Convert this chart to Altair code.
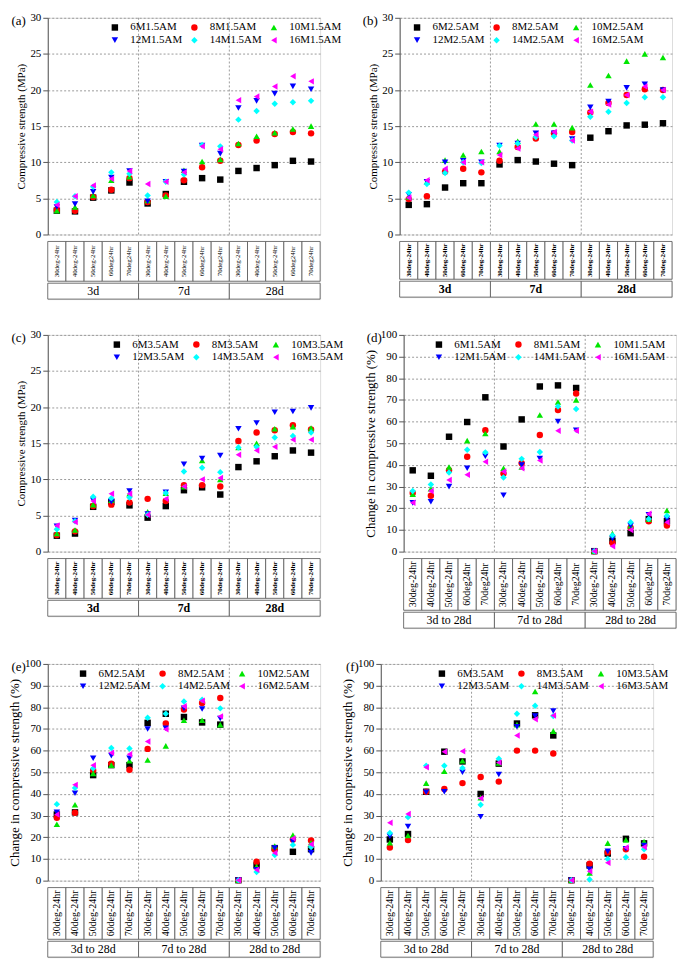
import altair as alt
import pandas as pd

SERIF = "Liberation Serif"

# x categories
temps_mixed = ["30deg-24hr", "40deg-24hr", "50deg-24hr", "60deg24hr", "70deg24hr"]
temps_hyph = ["30deg-24hr", "40deg-24hr", "50deg-24hr", "60deg-24hr", "70deg-24hr"]
ages = ["3d", "7d", "28d"]
ages_change = ["3d to 28d", "7d to 28d", "28d to 28d"]

names_15 = ["6M1.5AM", "8M1.5AM", "10M1.5AM", "12M1.5AM", "14M1.5AM", "16M1.5AM"]
names_25 = ["6M2.5AM", "8M2.5AM", "10M2.5AM", "12M2.5AM", "14M2.5AM", "16M2.5AM"]
names_35 = ["6M3.5AM", "8M3.5AM", "10M3.5AM", "12M3.5AM", "14M3.5AM", "16M3.5AM"]

# (a) compressive strength, 1.5AM (MPa)
a_6 = [3.3, 3.2, 5.1, 6.1, 7.2, 4.3, 5.6, 7.3, 7.8, 7.6, 8.8, 9.2, 9.6, 10.2, 10.1]
a_8 = [3.4, 3.3, 5.2, 6.2, 7.8, 4.5, 5.4, 7.5, 9.3, 10.2, 12.4, 13.0, 13.9, 14.2, 14.0]
a_10 = [3.3, 3.8, 5.4, 7.5, 8.0, 4.7, 5.3, 8.9, 10.1, 10.4, 12.6, 13.6, 14.1, 14.6, 15.0]
a_12 = [3.8, 4.2, 5.9, 7.9, 8.8, 4.6, 7.3, 8.7, 12.3, 11.2, 17.5, 18.5, 19.5, 20.5, 20.1]
a_14 = [4.5, 5.3, 6.6, 8.6, 8.4, 5.4, 7.3, 8.3, 12.4, 12.2, 15.9, 17.1, 18.1, 18.3, 18.5]
a_16 = [4.1, 5.3, 6.8, 7.7, 8.8, 7.0, 7.3, 8.6, 12.2, 11.8, 18.6, 19.1, 20.5, 21.9, 21.2]

# (b) compressive strength, 2.5AM (MPa)
b_6 = [4.1, 4.2, 6.5, 7.1, 7.1, 9.7, 10.3, 10.1, 9.8, 9.6, 13.4, 14.3, 15.1, 15.2, 15.4]
b_8 = [4.9, 5.3, 8.7, 9.1, 8.6, 10.2, 12.1, 13.3, 14.0, 14.2, 16.9, 18.2, 19.3, 20.1, 20.0]
b_10 = [5.2, 7.3, 10.3, 11.0, 11.5, 11.5, 12.9, 15.3, 15.3, 14.8, 20.7, 22.0, 24.0, 25.0, 24.5]
b_12 = [5.5, 7.3, 10.0, 10.2, 10.0, 12.3, 12.6, 14.0, 14.0, 13.2, 17.6, 18.4, 20.3, 20.8, 20.0]
b_14 = [5.8, 7.0, 8.5, 10.0, 9.9, 12.3, 12.6, 13.5, 13.6, 13.0, 16.3, 17.0, 18.2, 19.0, 19.0]
b_16 = [5.1, 7.5, 9.1, 10.0, 10.0, 11.0, 11.9, 13.8, 14.2, 13.0, 17.0, 18.0, 19.3, 20.5, 20.0]

# (c) compressive strength, 3.5AM (MPa)
c_6 = [2.2, 2.5, 6.2, 6.9, 6.4, 4.7, 6.3, 8.5, 8.9, 7.9, 11.7, 12.5, 13.2, 14.0, 13.7]
c_8 = [2.3, 2.8, 6.3, 6.5, 6.8, 7.3, 7.0, 9.2, 9.2, 9.0, 15.3, 16.5, 16.8, 17.5, 16.9]
c_10 = [2.5, 3.0, 6.5, 7.1, 8.0, 5.5, 8.1, 9.0, 12.6, 10.0, 14.4, 15.0, 17.0, 17.3, 17.1]
c_12 = [3.5, 4.3, 7.1, 6.9, 8.4, 5.2, 8.2, 12.1, 12.9, 13.3, 17.0, 17.8, 19.3, 19.4, 19.9]
c_14 = [3.1, 4.2, 7.6, 7.4, 7.5, 5.1, 8.1, 11.1, 11.6, 11.0, 14.4, 14.5, 15.8, 16.0, 16.5]
c_16 = [3.6, 4.1, 7.0, 8.0, 8.0, 5.1, 7.3, 9.0, 10.0, 10.2, 13.4, 14.0, 14.5, 15.5, 15.5]

# (d) change in strength, 1.5AM (%)
d_6 = [37.5, 35, 53, 59.8, 71.2, 48.5, 61, 76.2, 76.7, 75.5, 0.2, 5, 8.5, 15, 14]
d_8 = [27, 25.8, 37.5, 43.8, 56, 36, 40.8, 53.8, 65.3, 73, 0.2, 4, 11, 14, 12]
d_10 = [26.5, 29, 39, 51.2, 54.5, 38.5, 39, 63, 69, 70, 0.2, 8.3, 12, 15, 19]
d_12 = [22.5, 23, 30, 38.5, 44, 26, 40, 43, 60, 56, 0.2, 6, 12, 17, 15]
d_14 = [28, 31, 36.5, 47, 45.8, 34.2, 42.8, 46, 67, 65.8, 0.2, 7.5, 13.5, 15, 16.5]
d_16 = [22.5, 28, 33, 35.5, 41.5, 37, 38.5, 42, 55.8, 55.8, 0.2, 2.5, 10, 17.5, 13.5]

# (e) change in strength, 2.5AM (%)
e_6 = [30.5, 31.5, 48.7, 53.3, 53.3, 72.8, 77, 75.5, 73, 72, 0.2, 7, 15, 13.3, 14.5]
e_8 = [29, 31.3, 50.8, 54, 51.2, 60.8, 72.5, 79, 82, 84.3, 0.2, 8.7, 14.5, 19, 18.5]
e_10 = [26, 35, 49.5, 53.3, 55.3, 55.7, 62.2, 74, 74, 72, 0.2, 6.5, 16, 21, 17.5]
e_12 = [31.5, 40.3, 56.5, 57.7, 56.5, 70, 70.3, 79.5, 79.2, 74.8, 0.2, 5, 15, 18, 12.8]
e_14 = [35.3, 42.8, 51.8, 61.2, 61, 75.2, 77, 82.7, 83.5, 79.5, 0.2, 4, 11.8, 16.5, 15.5]
e_16 = [30.5, 44.2, 53.2, 59, 58.3, 64.2, 69.8, 80.5, 83, 75.8, 0.2, 5, 12.8, 19.5, 16.8]

# (f) change in strength, 3.5AM (%)
f_6 = [19, 21.5, 41, 59.5, 55, 40, 54, 72.5, 76.3, 67, 0.2, 7, 12.5, 19.3, 17.2]
f_8 = [15.3, 18.7, 41, 42.3, 45, 47.8, 45.7, 60, 60, 58.7, 0.2, 7.8, 13, 14.5, 11]
f_10 = [17.5, 20.8, 45, 50.5, 55.3, 38.3, 54.3, 72, 87.3, 69, 0.2, 3.5, 17.3, 18.8, 18]
f_12 = [20.5, 25, 40.8, 41, 50, 29.5, 49, 71, 76, 78.3, 0.2, 5.2, 13.5, 14.7, 16.2]
f_14 = [22, 29.3, 53, 53, 52, 35, 56.2, 77, 80.7, 76, 0.2, 0.5, 10, 10.8, 14.5]
f_16 = [26.7, 30.8, 52.3, 59.5, 59.7, 38, 54.5, 67, 74.5, 76.2, 0.2, 4.3, 8.2, 15.3, 15.5]

COLORS = ["#000000", "#ff0000", "#00e600", "#0000ff", "#00ffff", "#ff00ff"]
SHAPES = ["square", "circle", "triangle-up", "triangle-down", "diamond", "triangle-left"]
W = 274
H = 218


def panel(tag, series, names, temps, groups, ymax, ystep, ytitle, ytitle_size,
          legend_x, lab_size, lab_weight, grp_weight, band_h):
    keys = [f"{g}_{t}" for g in range(len(groups)) for t in range(len(temps))]
    rows = []
    for name, vals in zip(names, series):
        for k, v in zip(keys, vals):
            rows.append({"key": k, "series": name, "value": v})
    df = pd.DataFrame(rows)
    xs = alt.Scale(type="band", domain=keys, paddingInner=0, paddingOuter=0)

    leg = alt.Legend(title=None, orient="none", direction="horizontal", legendX=legend_x,
                     legendY=4, columns=3, labelFont=SERIF, labelFontSize=11,
                     labelColor="black", symbolSize=42, symbolStrokeWidth=0,
                     labelOffset=10, columnPadding=6, rowPadding=1, labelLimit=200)
    pts = alt.Chart(df).mark_point(filled=True, size=42, opacity=1).encode(
        x=alt.X("key:N", scale=xs, axis=None),
        y=alt.Y("value:Q", scale=alt.Scale(domain=[0, ymax], nice=False),
                axis=alt.Axis(values=list(range(0, ymax + 1, ystep)), grid=True,
                              gridDash=[2, 2], gridColor="#9a9a9a", title=ytitle,
                              titleFont=SERIF, titleFontSize=ytitle_size,
                              titleFontWeight="normal", titleColor="black",
                              labelFont=SERIF, labelFontSize=11, labelColor="black",
                              domainColor="#555", tickColor="#555", titlePadding=3)),
        color=alt.Color("series:N", scale=alt.Scale(domain=names, range=COLORS), legend=leg),
        shape=alt.Shape("series:N", scale=alt.Scale(domain=names, range=SHAPES), legend=leg),
    )
    sep = pd.DataFrame({"key": [keys[len(temps) * i] for i in range(1, len(groups))]})
    rules = alt.Chart(sep).mark_rule(color="#9a9a9a", strokeDash=[2, 2]).encode(
        x=alt.X("key:N", scale=xs, axis=None, bandPosition=0)
    )
    tagc = alt.Chart(pd.DataFrame({"t": [tag]})).mark_text(
        font=SERIF, fontSize=13, align="right", baseline="top"
    ).encode(text="t:N", x=alt.value(-22), y=alt.value(-3))
    top = alt.layer(rules, pts, tagc).properties(width=W, height=H)

    lab_df = pd.DataFrame({"key": keys, "lab": temps * len(groups)})
    lab_rect = alt.Chart(lab_df).mark_rect(fill="white", stroke="#555", strokeWidth=0.8).encode(
        x=alt.X("key:N", scale=xs, axis=None))
    lab_txt = alt.Chart(lab_df).mark_text(angle=270, font=SERIF, fontSize=lab_size,
                                          fontWeight=lab_weight, color="black").encode(
        x=alt.X("key:N", scale=xs, axis=None), text="lab:N")
    band = alt.layer(lab_rect, lab_txt).properties(width=W, height=band_h)

    gs = alt.Scale(type="band", domain=groups, paddingInner=0, paddingOuter=0)
    grp_df = pd.DataFrame({"grp": groups})
    grp_rect = alt.Chart(grp_df).mark_rect(fill="white", stroke="#555", strokeWidth=0.8).encode(
        x=alt.X("grp:N", scale=gs, axis=None))
    grp_txt = alt.Chart(grp_df).mark_text(font=SERIF, fontSize=12, fontWeight=grp_weight,
                                          color="black").encode(
        x=alt.X("grp:N", scale=gs, axis=None), text="grp:N")
    gband = alt.layer(grp_rect, grp_txt).properties(width=W, height=16)

    return alt.vconcat(top, band, gband, spacing=0).resolve_scale(x="independent")


cs = "Compressive strength (MPa)"
ch = "Change in compressive strength (%)"

pa = panel("(a)", [a_6, a_8, a_10, a_12, a_14, a_16], names_15, temps_mixed, ages,
           30, 5, cs, 11, 62, 7, "normal", "normal", 40)
pb = panel("(b)", [b_6, b_8, b_10, b_12, b_14, b_16], names_25, temps_hyph, ages,
           30, 5, cs, 11, 12, 7, "bold", "bold", 38)
pc = panel("(c)", [c_6, c_8, c_10, c_12, c_14, c_16], names_35, temps_hyph, ages,
           30, 5, cs, 11, 64, 7, "bold", "bold", 40)
pd_ = panel("(d)", [d_6, d_8, d_10, d_12, d_14, d_16], names_15, temps_mixed, ages_change,
            100, 10, ch, 13, 30, 10, "normal", "normal", 52)
pe = panel("(e)", [e_6, e_8, e_10, e_12, e_14, e_16], names_25, temps_hyph, ages_change,
           100, 10, ch, 13, 30, 10, "normal", "normal", 52)
pf = panel("(f)", [f_6, f_8, f_10, f_12, f_14, f_16], names_35, temps_hyph, ages_change,
           100, 10, ch, 13, 56, 10, "normal", "normal", 52)

ind = dict(x="independent", y="independent", color="independent", shape="independent")
row1 = alt.hconcat(pa, pb, spacing=20).resolve_scale(**ind)
row2 = alt.hconcat(pc, pd_, spacing=20).resolve_scale(**ind)
row3 = alt.hconcat(pe, pf, spacing=20).resolve_scale(**ind)

chart = alt.vconcat(row1, row2, row3, spacing=28).resolve_scale(**ind).properties(
    padding={"left": 0, "top": 0, "right": 0, "bottom": 0}
).configure_view(
    stroke="#555", strokeWidth=1
).configure(background="white")

chart.save("out.html", embed_options={"renderer": "svg", "actions": False})
